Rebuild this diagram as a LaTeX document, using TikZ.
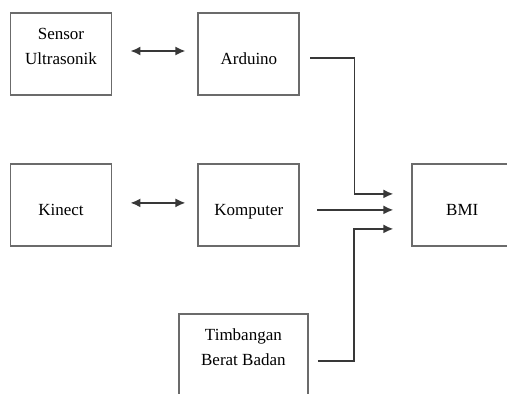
\documentclass[tikz,border=0pt]{standalone}
\usepackage{fontspec}
\setmainfont{Liberation Serif}
\usetikzlibrary{positioning,arrows.meta}

\begin{document}
\begin{tikzpicture}[x=1pt,y=1pt,
		blok/.style={draw=black!58,line width=1.9pt,minimum width=101pt,minimum height=82pt,inner sep=0pt},
		teks/.style={font=\fontsize{17}{25}\selectfont,align=center,inner sep=0pt},
		satubaris/.style={teks,text height=21pt,text depth=0pt},
		panah/.style={draw=black!78,line width=1.7pt,-{Latex[length=10pt,width=9pt]}},
		duaarah/.style={panah,{Latex[length=10pt,width=9pt]}-{Latex[length=10pt,width=9pt]}}]
		\useasboundingbox (0,0) rectangle (507,-394);
		\node[blok] (sensor) at (61,-54) {};
		\node[teks] (sensorteks) at ([yshift=8pt]sensor.center) {Sensor\\Ultrasonik};
		\node[blok,satubaris,right=85pt of sensor] (arduino) {Arduino};
		\node[blok,satubaris,below=67pt of sensor] (kinect) {Kinect};
		\node[blok,satubaris,right=85pt of kinect] (komputer) {Komputer};
		\node[blok,satubaris,minimum width=100pt,right=111pt of komputer] (bmi) {BMI};
		\node[blok,minimum width=129pt,minimum height=95pt,below=66pt of komputer,xshift=-5.5pt] (timb) {};
		\node[teks] (timbteks) at ([yshift=-34pt]timb.north) {Timbangan\\Berat Badan};
		\draw[duaarah] ([xshift=18pt,yshift=3pt]sensor.east) -- ([xshift=-12pt,yshift=3pt]arduino.west);
		\draw[duaarah] ([xshift=18pt,yshift=2pt]kinect.east) -- ([xshift=-12pt,yshift=2pt]komputer.west);
		\draw[panah] ([xshift=10pt,yshift=-4pt]arduino.east) -- ++(44,0) |- ([xshift=-18pt,yshift=11pt]bmi.west);
		\draw[panah] ([xshift=17pt,yshift=-5pt]komputer.east) -- ([xshift=-18pt,yshift=-5pt]bmi.west);
		\draw[panah] ([xshift=9pt]timb.east) -- ++(36,0) |- ([xshift=-18pt,yshift=-24pt]bmi.west);
\end{tikzpicture}
\end{document}
